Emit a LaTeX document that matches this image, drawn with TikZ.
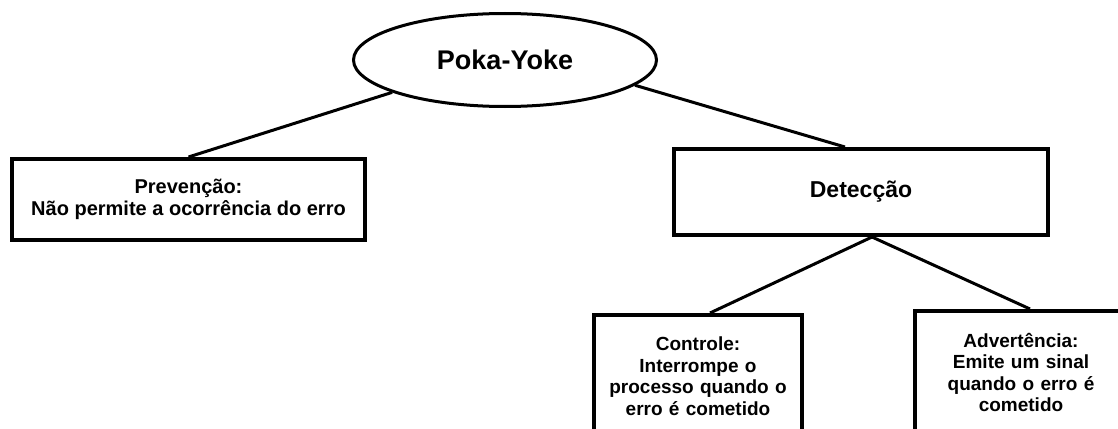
\documentclass[tikz,border=0pt]{standalone}
\usepackage{fontspec}
\setmainfont{Liberation Sans}
\usepackage{tikz}
\usetikzlibrary{shapes.geometric,calc}

\begin{document}
\begin{tikzpicture}[x=1pt,y=-1pt,
    box/.style={draw, line width=4pt, inner sep=0pt, align=center, font=\bfseries},
    leaf/.style={box, anchor=north, text width=200pt, inner ysep=22pt, text depth=90pt,
        font=\bfseries\fontsize{19}{21.5}\selectfont},
    link/.style={line width=3pt}]
    \useasboundingbox (0,0) rectangle (1118,428);
    \clip (0,0) rectangle (1118,428);
    %%
    %% Top
    \node[ellipse, draw, line width=3pt, inner sep=0pt, minimum width=303pt, minimum height=93pt,
        font=\bfseries\fontsize{27}{30}\selectfont] (poka) at (505,60) {Poka-Yoke};
    %% Second row
    \node[box, minimum width=353pt, minimum height=81pt, font=\bfseries\fontsize{20}{22}\selectfont]
        (prev) at (188.5,199.5) {Prevenção:\\Não permite a ocorrência do erro};
    \node[box, minimum width=374pt, minimum height=86pt, font=\bfseries\fontsize{23}{26}\selectfont]
        (detec) at (861,192) {Detecção};
    %% Third row
    \node[leaf, minimum width=208pt] (ctrl) at (698,313)
        {Controle:\\Interrompe o\\processo quando o\\erro é cometido};
    \node[leaf, minimum width=212pt] (adv) at (1021,309)
        {Advertência:\\Emite um sinal\\quando o erro é\\cometido};
    %%
    \draw[link]
    (poka.196) -- (prev.north)
    (poka.-11) -- ([xshift=-16pt]detec.north)
    ;
    \foreach \N/\S in {ctrl/12,adv/9}
    {
    \draw[link] ([xshift=11pt]detec.south) -- ([xshift=\S pt]\N.north);
    }
\end{tikzpicture}
\end{document}
